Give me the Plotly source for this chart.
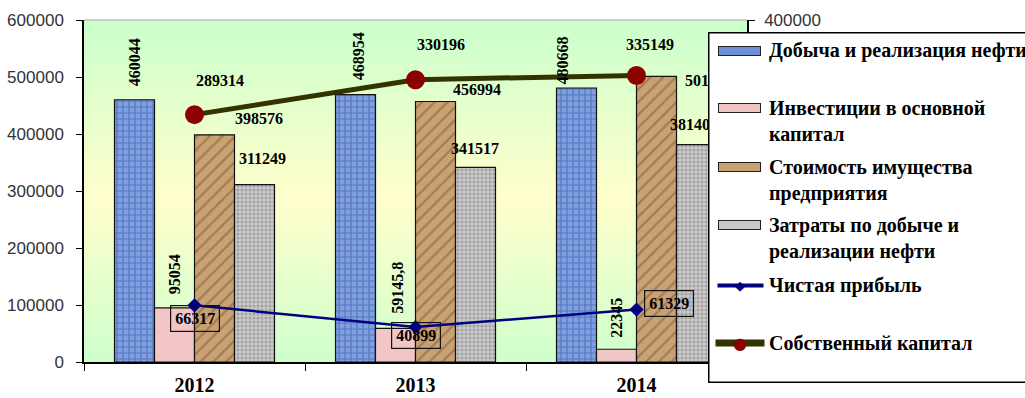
import plotly.graph_objects as go

# ---- data -------------------------------------------------------------
years = ["2012", "2013", "2014"]
oil_sales = [460044, 468954, 480668]            # Добыча и реализация нефти
fixed_investment = [95054, 59145.8, 22345]      # Инвестиции в основной капитал
property_value = [398576, 456994, 501254]       # Стоимость имущества предприятия
oil_costs = [311249, 341517, 381402]            # Затраты по добыче и реализации нефти
net_profit = [66317, 40899, 61329]              # Чистая прибыль
equity = [289314, 330196, 335149]               # Собственный капитал

series_names = [
    "Добыча и реализация нефти",
    "Инвестиции в основной капитал",
    "Стоимость имущества предприятия",
    "Затраты по добыче и реализации нефти",
    "Чистая прибыль",
    "Собственный капитал",
]

# ---- geometry ---------------------------------------------------------
W, H = 1025, 398
ML, MR, MT, MB = 84, 278, 20, 36
PW, PH = W - ML - MR, H - MT - MB
BAR_GAP = 0.276
CAT_W = PW / len(years)
BAR_W = CAT_W * (1 - BAR_GAP) / 4
BAR_CENTERS = [(i - 1.5) * BAR_W for i in range(4)]   # px offsets inside a group


def px(x):
    return (x - ML) / PW


def py(y):
    return (H - MB - y) / PH


def fmt(v):
    if float(v).is_integer():
        return str(int(v))
    return str(v).replace(".", ",")


SERIF = "Liberation Serif"
SANS = "Liberation Sans"

fig = go.Figure()

# ---- bars -------------------------------------------------------------
bar_styles = [
    dict(color="#7f9fe0", pattern=dict(shape="+", fgcolor="#2b4c9c", size=6, solidity=0.35)),
    dict(color="#f2c6c6"),
    dict(color="#c9a273", pattern=dict(shape="/", fgcolor="#7d5430", size=9, solidity=0.25)),
    dict(color="#c9c9c9", pattern=dict(shape=".", fgcolor="#7a7a7a", size=4, solidity=0.45)),
]
bar_values = [oil_sales, fixed_investment, property_value, oil_costs]
for name, vals, style in zip(series_names[:4], bar_values, bar_styles):
    fig.add_trace(go.Bar(
        x=years, y=vals, name=name,
        marker=dict(line=dict(color="#111111", width=1.2), **style),
        showlegend=False,
    ))

# ---- lines on the secondary axis ---------------------------------------
fig.add_trace(go.Scatter(
    x=years, y=net_profit, name=series_names[4], yaxis="y2",
    mode="lines+markers",
    line=dict(color="#000080", width=2.5),
    marker=dict(symbol="diamond", size=11, color="#000080"),
    showlegend=False,
))
fig.add_trace(go.Scatter(
    x=years, y=equity, name=series_names[5], yaxis="y2",
    mode="lines+markers",
    line=dict(color="#333300", width=5),
    marker=dict(symbol="circle", size=19, color="#8b0000"),
    showlegend=False,
))

# ---- plot-area gradient (green - pale yellow - green) -----------------
shapes = []
N = 70
green, yellow = (204, 255, 204), (255, 255, 204)
for k in range(N):
    t = (k + 0.5) / N                      # 0 = top, 1 = bottom
    f = max(0.0, 1 - abs(t - 0.52) / 0.5)
    c = tuple(round(g + (yv - g) * f) for g, yv in zip(green, yellow))
    shapes.append(dict(
        type="rect", xref="paper", yref="paper",
        x0=0, x1=1, y0=1 - (k + 1) / N, y1=1 - k / N + 0.002,
        fillcolor=f"rgb{c}", line=dict(width=0), layer="below",
    ))
shapes.append(dict(type="line", xref="paper", yref="paper", x0=0, x1=1, y0=1, y1=1,
                   line=dict(color="#c4c4c4", width=1.5), layer="below"))

# ---- value labels -----------------------------------------------------
# category positions are given by index so numeric-looking year names
# are not read as coordinates
label_font = dict(family=SERIF, size=16, color="#000000", weight="bold")
annotations = []

# (dx, dy) of each label centre relative to its bar top centre, px
bar_label_offsets = [
    [(0, 38), (3, 39), (-14, 28)],
    [(0, 34), (2, 41), (0, 32)],
    [(44, 16), (41, 12), (52, -4)],
    [(8, 26), (-1, 19), (-3, 20)],
]
bar_label_angles = [-90, -90, 0, 0]
for s, vals in enumerate(bar_values):
    for i in range(len(years)):
        dx, dy = bar_label_offsets[s][i]
        annotations.append(dict(
            x=i, y=vals[i], xref="x", yref="y", text=fmt(vals[i]),
            showarrow=False, textangle=bar_label_angles[s],
            xanchor="center", yanchor="middle",
            xshift=BAR_CENTERS[s] + dx, yshift=dy, font=label_font,
        ))

equity_offsets = [(25, 34), (25, 35), (13, 31)]
for i in range(len(years)):
    dx, dy = equity_offsets[i]
    annotations.append(dict(
        x=i, y=equity[i], xref="x", yref="y2", text=fmt(equity[i]),
        showarrow=False, xanchor="center", yanchor="middle",
        xshift=dx, yshift=dy, font=label_font,
    ))

profit_offsets = [(0, -13), (0, -8), (32, 6)]
for i in range(len(years)):
    dx, dy = profit_offsets[i]
    annotations.append(dict(
        x=i, y=net_profit[i], xref="x", yref="y2", text=fmt(net_profit[i]),
        showarrow=False, xanchor="center", yanchor="middle",
        xshift=dx, yshift=dy, font=label_font,
        bordercolor="#111111", borderwidth=1.2, borderpad=4,
    ))

# ---- legend box (drawn last so it sits over the labels) ---------------
NB = "\u00a0"
annotations.append(dict(
    xref="paper", yref="paper", x=px(708), y=py(32), xanchor="left", yanchor="top",
    text=NB, showarrow=False, width=420, height=348, borderpad=0,
    bgcolor="#ffffff", bordercolor="#000000", borderwidth=1.5,
    font=dict(size=2),
))

legend_font = dict(family=SERIF, size=20, color="#000000", weight="bold")
legend_rows = [
    ("Добыча и реализация нефти", 50),
    ("Инвестиции в основной<br>капитал", 121),
    ("Стоимость имущества<br>предприятия", 180),
    ("Затраты по добыче и<br>реализации нефти", 238),
    ("Чистая прибыль", 285),
    ("Собственный капитал", 343),
]
for text, yc in legend_rows:
    annotations.append(dict(
        xref="paper", yref="paper", x=px(767), y=py(yc), xanchor="left", yanchor="middle",
        text=text, align="left", showarrow=False, font=legend_font,
    ))

swatch_y = [51, 108, 167, 225]
swatch_colors = ["#6f8fd6", "#f0c4c4", "#c9a273", "#c8c8c8"]
for yc, col in zip(swatch_y, swatch_colors):
    annotations.append(dict(
        xref="paper", yref="paper", x=px(739.5), y=py(yc), xanchor="center", yanchor="middle",
        text=NB, showarrow=False, width=41, height=8, borderpad=0,
        bgcolor=col, bordercolor="#222222", borderwidth=1, font=dict(size=2),
    ))

# line swatches
annotations.append(dict(
    xref="paper", yref="paper", x=px(740), y=py(285), xanchor="center", yanchor="middle",
    text=NB, showarrow=False, width=45, height=3, borderpad=0, bgcolor="#000080",
    font=dict(size=1),
))
annotations.append(dict(
    xref="paper", yref="paper", x=px(740), y=py(285), xanchor="center", yanchor="middle",
    text="◆", showarrow=False, font=dict(family="DejaVu Sans", size=13, color="#000080"),
))
annotations.append(dict(
    xref="paper", yref="paper", x=px(740), y=py(343), xanchor="center", yanchor="middle",
    text=NB, showarrow=False, width=48, height=6, borderpad=0, bgcolor="#333300",
    font=dict(size=1),
))
annotations.append(dict(
    xref="paper", yref="paper", x=px(740), y=py(343), xanchor="center", yanchor="middle",
    text="●", showarrow=False, font=dict(family="DejaVu Sans", size=16, color="#8b0000"),
))

# ---- layout -----------------------------------------------------------
tick_font = dict(family=SANS, size=17, color="#333333")
fig.update_layout(
    width=W, height=H,
    margin=dict(l=ML, r=MR, t=MT, b=MB, autoexpand=False),
    paper_bgcolor="#ffffff", plot_bgcolor="#ccffcc",
    barmode="group", bargap=BAR_GAP, bargroupgap=0,
    showlegend=False,
    xaxis=dict(
        type="category", range=[-0.5, len(years) - 0.5], autorange=False,
        showline=True, linecolor="#000000", linewidth=1.5,
        ticks="outside", tickson="boundaries", ticklen=7, tickcolor="#000000",
        tickfont=dict(family=SERIF, size=20, color="#000000", weight="bold"),
        tickangle=0, ticklabelstandoff=4, showgrid=False, zeroline=False,
    ),
    yaxis=dict(
        range=[0, 600000], autorange=False, dtick=100000, showgrid=False, zeroline=False,
        showline=True, linecolor="#000000", linewidth=1.5,
        ticks="outside", ticklen=6, tickcolor="#000000", tickfont=tick_font,
        tickformat="d", ticklabelstandoff=9,
    ),
    yaxis2=dict(
        range=[0, 400000], autorange=False, dtick=100000, overlaying="y", side="right",
        showgrid=False, zeroline=False, showline=True, linecolor="#000000",
        linewidth=1.5, ticks="outside", ticklen=6, tickcolor="#000000",
        tickfont=tick_font, tickformat="d", ticklabelstandoff=6,
    ),
    shapes=shapes,
    annotations=annotations,
)

fig.write_html("out.html")
